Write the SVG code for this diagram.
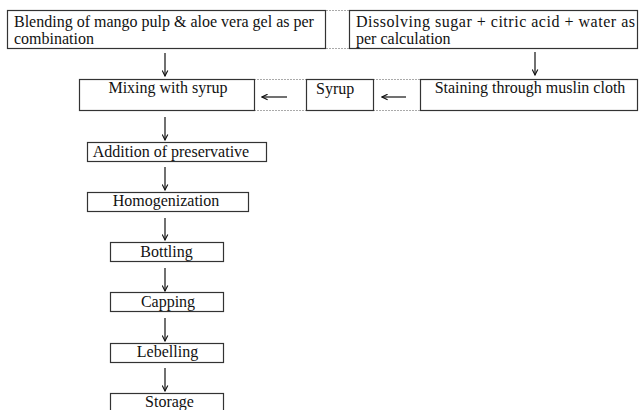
<svg xmlns="http://www.w3.org/2000/svg" width="639" height="410" viewBox="0 0 639 410">
<style>
.box{fill:#fff;stroke:#333;stroke-width:1.2}
.t{font-family:"Liberation Serif","Times New Roman",serif;font-size:16px;fill:#111}
.dot{stroke:#aaa;stroke-width:1;stroke-dasharray:2 1;fill:none}
.arr{stroke:#111;stroke-width:1.2;fill:none;marker-end:url(#ah)}
</style>
<defs>
<marker id="ah" viewBox="0 0 10 10" refX="9" refY="5" markerWidth="7" markerHeight="7" markerUnits="userSpaceOnUse" orient="auto">
<path d="M1,1 L9,5 L1,9" fill="none" stroke="#111" stroke-width="1.6"/>
</marker>
</defs>
<rect width="639" height="410" fill="#fff"/>
<g id="connectors">
<line class="dot" x1="326" y1="10.5" x2="349" y2="10.5"/>
<line class="dot" x1="326" y1="48.5" x2="349" y2="48.5"/>
<line class="dot" x1="254" y1="79.5" x2="306" y2="79.5"/>
<line class="dot" x1="254" y1="110.5" x2="306" y2="110.5"/>
<line class="dot" x1="373" y1="79.5" x2="420" y2="79.5"/>
<line class="dot" x1="373" y1="110.5" x2="420" y2="110.5"/>
<line class="arr" x1="165" y1="53" x2="165" y2="76"/>
<line class="arr" x1="535" y1="52" x2="535" y2="75"/>
<line class="arr" x1="287" y1="97" x2="262" y2="97"/>
<line class="arr" x1="406" y1="97" x2="382" y2="97"/>
<line class="arr" x1="165" y1="117" x2="165" y2="140"/>
<line class="arr" x1="165" y1="167" x2="165" y2="190"/>
<line class="arr" x1="165" y1="218" x2="165" y2="240"/>
<line class="arr" x1="165" y1="268" x2="165" y2="291"/>
<line class="arr" x1="165" y1="318" x2="165" y2="341"/>
<line class="arr" x1="165" y1="368" x2="165" y2="391"/>
</g>
<g id="blending">
<rect class="box" x="7.5" y="10.5" width="318" height="38"/>
<text class="t" x="14" y="27">Blending of mango pulp &amp; aloe vera gel as per</text>
<text class="t" x="14" y="44">combination</text>
</g>
<g id="dissolving">
<rect class="box" x="349.5" y="10.5" width="288" height="38"/>
<text class="t" x="356" y="27" textLength="279" lengthAdjust="spacing">Dissolving sugar + citric acid + water as</text>
<text class="t" x="356" y="44">per calculation</text>
</g>
<g id="mixing">
<rect class="box" x="79.5" y="79.5" width="175" height="31"/>
<text class="t" x="168" y="93" text-anchor="middle">Mixing with syrup</text>
</g>
<g id="syrup">
<rect class="box" x="306.5" y="79.5" width="67" height="31"/>
<text class="t" x="316" y="94">Syrup</text>
</g>
<g id="staining">
<rect class="box" x="420.5" y="79.5" width="217" height="31"/>
<text class="t" x="530" y="93" text-anchor="middle">Staining through muslin cloth</text>
</g>
<g id="preservative">
<rect class="box" x="87.5" y="142.5" width="179" height="19"/>
<text class="t" x="171" y="157" text-anchor="middle">Addition of preservative</text>
</g>
<g id="homogenization">
<rect class="box" x="87.5" y="192.5" width="161" height="19"/>
<text class="t" x="166" y="206" text-anchor="middle">Homogenization</text>
</g>
<g id="bottling">
<rect class="box" x="110.5" y="242.5" width="113" height="19"/>
<text class="t" x="166.5" y="257" text-anchor="middle">Bottling</text>
</g>
<g id="capping">
<rect class="box" x="110.5" y="292.5" width="113" height="19"/>
<text class="t" x="168" y="307" text-anchor="middle">Capping</text>
</g>
<g id="lebelling">
<rect class="box" x="110.5" y="343.5" width="113" height="19"/>
<text class="t" x="167.5" y="357" text-anchor="middle">Lebelling</text>
</g>
<g id="storage">
<rect class="box" x="110.5" y="393.5" width="113" height="19"/>
<text class="t" x="169.5" y="407" text-anchor="middle">Storage</text>
</g>
</svg>
